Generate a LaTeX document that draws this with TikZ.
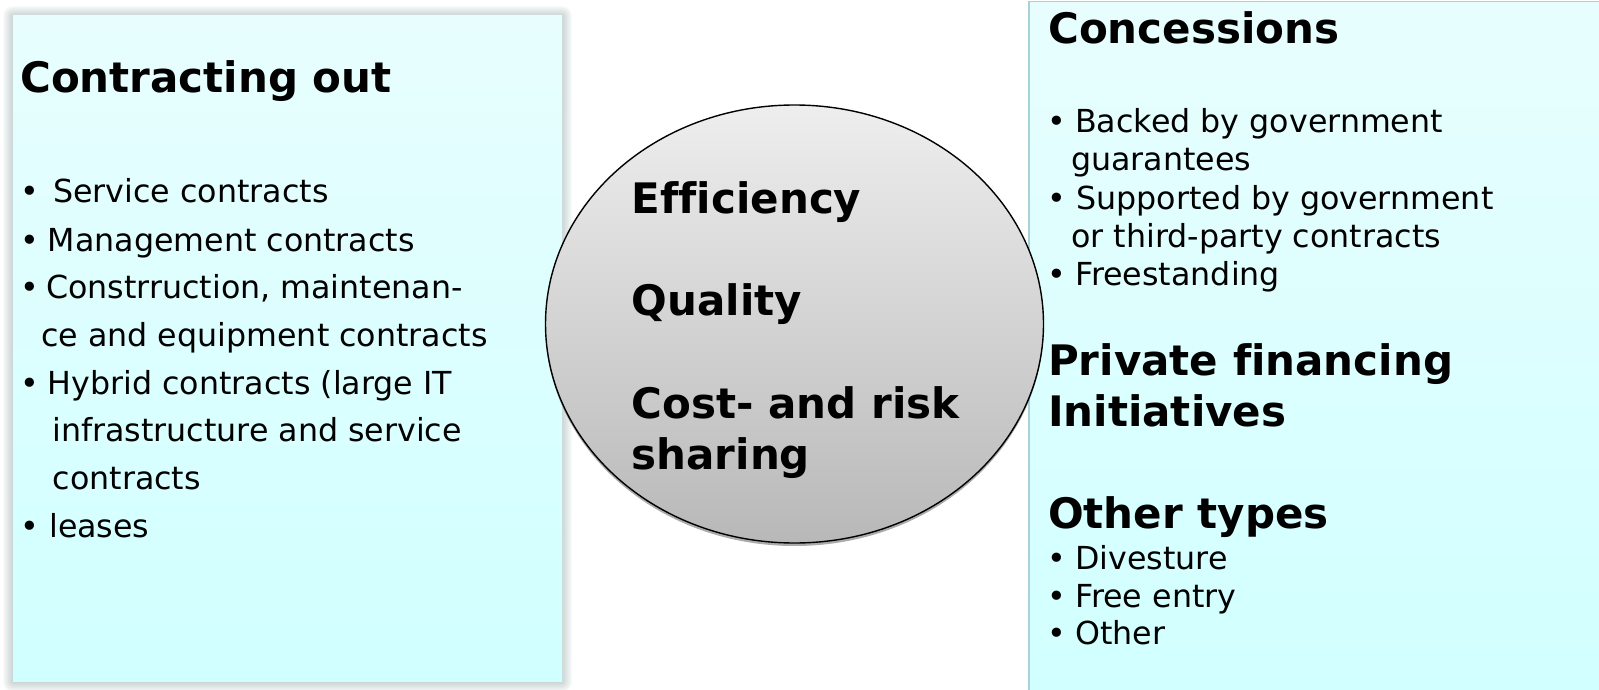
\documentclass[tikz,border=0pt]{standalone}
\usepackage{fontspec}
\setmainfont[Ligatures=NoCommon]{DejaVu Sans}
\usetikzlibrary{shapes.geometric,shadows}
\definecolor{boxtop}{HTML}{E8FEFE}
\definecolor{boxbot}{HTML}{D0FFFF}
\definecolor{rboxline}{HTML}{A6D2D8}
\definecolor{glow}{HTML}{6A8888}
\definecolor{ctop}{HTML}{EEEEEE}
\definecolor{cbot}{HTML}{B8B8B8}
\begin{document}
\begin{tikzpicture}[x=1pt,y=-1pt,
  head/.style={font={\fontsize{42}{50}\selectfont\bfseries}, anchor=base west, inner sep=0pt},
  item/.style={font={\fontsize{31.7}{38}\selectfont}, anchor=base west, inner sep=0pt},
  bul/.style={font={\fontsize{31.7}{38}\selectfont}, anchor=base, inner sep=0pt},
  leftbox/.style={rectangle, inner sep=0pt, draw=none, top color=boxtop, bottom color=boxbot},
  rightbox/.style={rectangle, inner sep=0pt, draw=rboxline, line width=1.5pt, top color=boxtop, bottom color=boxbot},
  centreoval/.style={ellipse, inner sep=0pt, draw=black, line width=1.4pt, top color=ctop, bottom color=cbot,
    drop shadow={shadow xshift=0pt, shadow yshift=-3pt, fill=black!55, opacity=0.6}}]
\useasboundingbox (0,0) rectangle (1599,690);
\clip (0,0) rectangle (1599,690);
\fill[white] (0,0) rectangle (1599,690);

% right box
\node[rightbox, anchor=north west, minimum width=600pt, minimum height=720pt] (R) at (1028,1) {};

% glow of left box
\foreach \i in {1,...,10}{
  \fill[glow, opacity=0.035, rounded corners=\i pt] (13-\i,15-\i+1) rectangle (562+\i,681+\i+1);
}
\node[leftbox, anchor=north west, minimum width=549pt, minimum height=666pt] (L) at (13,15) {};

% centre oval
\node[centreoval, minimum width=498pt, minimum height=438pt] (C) at (794.5,324) {};

% left texts
\node[head] (lh) at (20,93) {Contracting out};
\node[bul] (lb1) at (30,203) {•};
\node[item] (l1) at (53,203) {Service contracts};
\node[bul] (lb2) at (30,251) {•};
\node[item] (l2) at (47.5,251) {Management contracts};
\node[bul] (lb3) at (30,298.5) {•};
\node[item] (l3) at (46,298.5) {Constrruction, maintenan-};
\node[item] (l4) at (41,346) {ce and equipment contracts};
\node[bul] (lb5) at (30,394) {•};
\node[item] (l5) at (47.5,394) {Hybrid contracts (large IT};
\node[item] (l6) at (52,441.5) {infrastructure and service};
\node[item] (l7) at (52.5,489) {contracts};
\node[bul] (lb8) at (30,537) {•};
\node[item] (l8) at (49,537) {leases};

% centre texts
\node[head] (c1) at (631.5,213) {Efficiency};
\node[head] (c2) at (631.5,315) {Quality};
\node[head] (c3) at (631.5,418) {Cost- and risk};
\node[head] (c4) at (631.5,469) {sharing};

% right texts
\node[head] (rh1) at (1048,44) {Concessions};
\node[bul] (rb1) at (1057,133) {•};
\node[item] (r1) at (1075,133) {Backed by government};
\node[item] (r2) at (1071,171) {guarantees};
\node[bul] (rb3) at (1057,209) {•};
\node[item] (r3) at (1076,209) {Supported by government};
\node[item] (r4) at (1071,247) {or third-party contracts};
\node[bul] (rb5) at (1057,285) {•};
\node[item] (r5) at (1075,285) {Freestanding};
\node[head] (rh2) at (1048,375) {Private financing};
\node[head] (rh3) at (1048,426) {Initiatives};
\node[head] (rh4) at (1048,528) {Other types};
\node[bul] (rb6) at (1057,569) {•};
\node[item] (r6) at (1075,569) {Divesture};
\node[bul] (rb7) at (1057,607) {•};
\node[item] (r7) at (1075,607) {Free entry};
\node[bul] (rb8) at (1057,644) {•};
\node[item] (r8) at (1075,644) {Other};
\end{tikzpicture}
\end{document}
